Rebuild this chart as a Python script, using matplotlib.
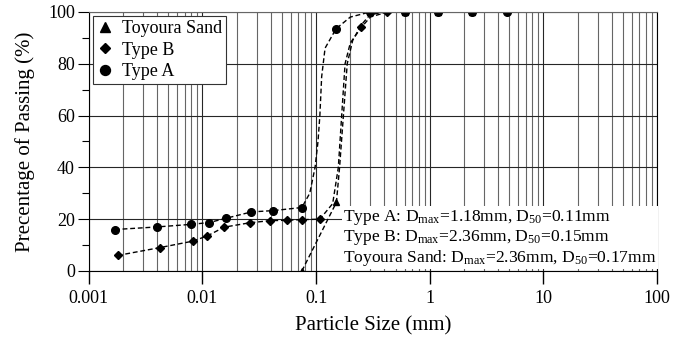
import numpy as np
import matplotlib
matplotlib.use('Agg')
import matplotlib.pyplot as plt
from matplotlib.ticker import LogLocator, NullFormatter, MultipleLocator, FixedLocator, FixedFormatter

plt.rcParams['font.family'] = 'Liberation Serif'
plt.rcParams['mathtext.fontset'] = 'custom'
plt.rcParams['mathtext.rm'] = 'Liberation Serif'
plt.rcParams['mathtext.it'] = 'Liberation Serif:italic'

# measured points (particle size mm, % passing)
type_a_x = [0.0017, 0.004, 0.008, 0.0115, 0.016, 0.027, 0.042, 0.075, 0.15, 0.3, 0.6, 1.18, 2.36, 4.75]
type_a_y = [16, 17, 18, 18.7, 20.3, 22.8, 23.3, 24.5, 93.5, 100, 100, 100, 100, 100]
type_b_x = [0.0018, 0.0042, 0.0082, 0.011, 0.0155, 0.026, 0.039, 0.056, 0.075, 0.108, 0.25, 0.425]
type_b_y = [6, 9, 11.5, 13.5, 16.9, 18.6, 19.4, 19.6, 19.8, 20, 94, 100]
toy_x = [0.075, 0.151, 0.3, 0.6, 1.18, 2.36]
toy_y = [0, 26.5, 100, 100, 100, 100]

# dashed fitted curves
fit_a_x = [0.0017, 0.004, 0.008, 0.0115, 0.016, 0.027, 0.042, 0.075, 0.088, 0.098, 0.104, 0.108, 0.112, 0.12, 0.15, 0.2, 0.3, 0.6, 1.18, 2.36, 4.75]
fit_a_y = [16, 17, 18, 18.7, 20.3, 22.8, 23.3, 24.5, 30, 40, 50, 60, 75, 86, 93.5, 98, 100, 100, 100, 100, 100]
fit_b_x = [0.0018, 0.0042, 0.0082, 0.011, 0.0155, 0.026, 0.039, 0.056, 0.075, 0.108, 0.14, 0.157, 0.168, 0.18, 0.2, 0.25, 0.3, 0.425]
fit_b_y = [6, 9, 11.5, 13.5, 16.9, 18.6, 19.4, 19.6, 19.8, 20, 26, 40, 60, 80, 88, 94, 98, 100]
fit_t_x = [0.075, 0.151, 0.161, 0.174, 0.188, 0.21, 0.25, 0.3, 0.425]
fit_t_y = [0, 26.5, 40, 60, 80, 89, 95, 99, 100]

notes = ['Type A: D$_{\\mathrm{max}}$=1.18mm, D$_{\\mathrm{50}}$=0.11mm',
         'Type B: D$_{\\mathrm{max}}$=2.36mm, D$_{\\mathrm{50}}$=0.15mm',
         'Toyoura Sand: D$_{\\mathrm{max}}$=2.36mm, D$_{\\mathrm{50}}$=0.17mm']

fig = plt.figure(figsize=(6.88, 3.4), dpi=100)
ax = fig.add_axes([0.129, 0.203, 0.826, 0.762])

ax.set_xscale('log')
ax.set_xlim(0.001, 100)
ax.set_ylim(0, 100)

ax.xaxis.set_major_locator(FixedLocator([0.001, 0.01, 0.1, 1, 10, 100]))
ax.xaxis.set_major_formatter(FixedFormatter(['0.001', '0.01', '0.1', '1', '10', '100']))
ax.xaxis.set_minor_locator(LogLocator(base=10, subs=np.arange(2, 10)))
ax.xaxis.set_minor_formatter(NullFormatter())
ax.yaxis.set_major_locator(MultipleLocator(20))
ax.yaxis.set_minor_locator(MultipleLocator(10))

ax.grid(True, which='major', axis='both', color='0.15', lw=0.8)
ax.grid(True, which='minor', axis='x', color='0.4', lw=0.8)
ax.set_axisbelow(True)

ax.tick_params('x', which='major', direction='out', length=9, width=1, labelsize=13, pad=5)
ax.tick_params('x', which='minor', length=0)
ax.tick_params('y', which='major', direction='out', length=8, width=0.8, labelsize=13, pad=2)
ax.tick_params('y', which='minor', direction='out', length=5, width=0.8)
for s in ax.spines.values():
    s.set_linewidth(0.8)
ax.spines['top'].set_color('0.4')

dash = (0, (3.5, 2))
ax.plot(fit_a_x, fit_a_y, color='black', lw=1, linestyle=dash)
ax.plot(fit_b_x, fit_b_y, color='black', lw=1, linestyle=dash)
ax.plot(fit_t_x, fit_t_y, color='black', lw=1, linestyle=dash)

h_t, = ax.plot(toy_x, toy_y, '^', color='black', ms=5, ls='none', label='Toyoura Sand')
h_b, = ax.plot(type_b_x, type_b_y, 'D', color='black', ms=4, ls='none', label='Type B')
h_a, = ax.plot(type_a_x, type_a_y, 'o', color='black', ms=5.5, ls='none', label='Type A')

leg = ax.legend(handles=[h_t, h_b, h_a], loc='upper left', bbox_to_anchor=(0.0, 1.0),
                fontsize=13, frameon=True, fancybox=False, framealpha=1,
                edgecolor='0.2', handlelength=0.9, handletextpad=0.5,
                borderpad=0.2, labelspacing=0.25, borderaxespad=0.25, markerscale=1.3)
leg.get_frame().set_linewidth(0.8)

ax.text(0.999, 0.012, '\n'.join(notes), transform=ax.transAxes, ha='right', va='bottom',
        multialignment='left', fontsize=12.6, linespacing=1.08,
        bbox=dict(facecolor='white', edgecolor='none', pad=1.0))

ax.set_xlabel('Particle Size (mm)', fontsize=15, labelpad=6)
ax.set_ylabel('Precentage of Passing (%)', fontsize=15, labelpad=9)

plt.savefig('out.png', dpi=100)
